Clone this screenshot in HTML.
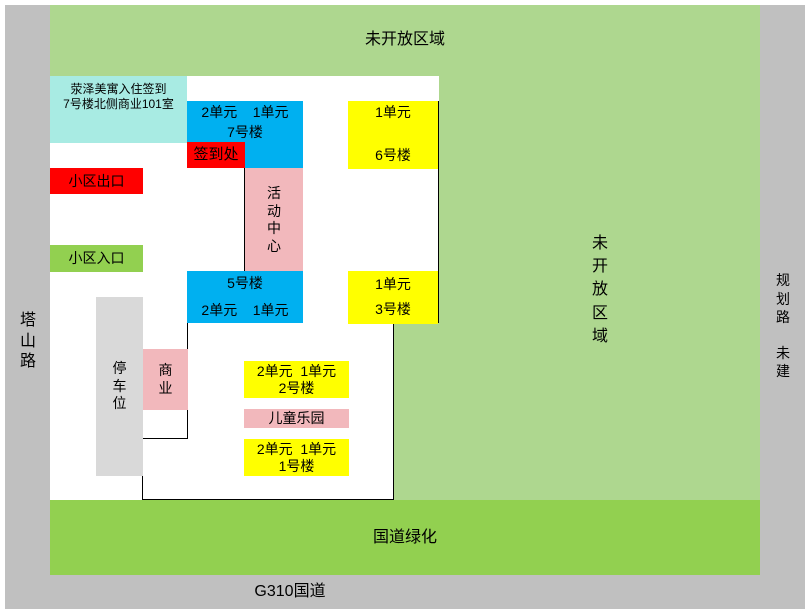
<!DOCTYPE html>
<html><head><meta charset="utf-8"><style>
body{margin:0;width:809px;height:614px;background:#fff;position:relative;overflow:hidden;font-family:"Liberation Sans","Noto Sans CJK SC",sans-serif;}
div{position:absolute;box-sizing:border-box;}
.t{display:flex;align-items:center;justify-content:center;text-align:center;font-size:14px;color:#000;line-height:1.2;}
</style></head><body>
<div style="left:5px;top:5px;width:800px;height:604px;background:#c0c0c0"></div>
<div style="left:50px;top:5px;width:710px;height:495px;background:#aed78f"></div>
<div class="t" style="left:50px;top:25px;width:710px;height:30px;font-size:16px">未开放区域</div>
<div class="t" style="left:580px;top:230px;width:40px;height:120px;font-size:16px;line-height:1.45">未<br>开<br>放<br>区<br>域</div>
<div style="left:50px;top:76px;width:389px;height:247px;background:#fff"></div>
<div style="left:50px;top:76px;width:137px;height:424px;background:#fff"></div>
<div style="left:142px;top:323px;width:252px;height:177px;background:#fff;border:1px solid #000;border-top:none"></div>
<div style="left:142px;top:323px;width:46px;height:116px;background:#fff;border-right:1px solid #000;border-bottom:1px solid #000"></div>
<div style="left:142px;top:440px;width:1px;height:60px;background:#000"></div>
<div style="left:139px;top:323px;width:3px;height:117px;background:#fff"></div>
<div style="left:438px;top:101px;width:1px;height:222px;background:#000"></div>
<div style="left:244px;top:168px;width:1px;height:104px;background:#000"></div>
<div class="t" style="left:50px;top:76px;width:137px;height:67px;background:#a8ebe3;align-items:flex-start;padding-top:6px;font-size:12px;line-height:1.25">荥泽美寓入住签到<br>7号楼北侧商业101室</div>
<div style="left:187px;top:101px;width:116px;height:67px;background:#00b0f0"></div>
<div class="t" style="left:187px;top:102px;width:116px;height:20px">2单元&nbsp;&nbsp;&nbsp;&nbsp;1单元</div>
<div class="t" style="left:187px;top:122px;width:116px;height:20px">7号楼</div>
<div class="t" style="left:187px;top:142px;width:58px;height:26px;background:#f00;font-size:15px">签到处</div>
<div class="t" style="left:50px;top:168px;width:93px;height:26px;background:#f00">小区出口</div>
<div class="t" style="left:50px;top:245px;width:93px;height:27px;background:#92d050">小区入口</div>
<div class="t" style="left:245px;top:168px;width:58px;height:104px;background:#f2b8bc;line-height:1.25">活<br>动<br>中<br>心</div>
<div style="left:187px;top:271px;width:116px;height:52px;background:#00b0f0"></div>
<div class="t" style="left:187px;top:273px;width:116px;height:20px">5号楼</div>
<div class="t" style="left:187px;top:300px;width:116px;height:20px">2单元&nbsp;&nbsp;&nbsp;&nbsp;1单元</div>
<div style="left:348px;top:101px;width:90px;height:68px;background:#ff0"></div>
<div class="t" style="left:348px;top:102px;width:90px;height:20px">1单元</div>
<div class="t" style="left:348px;top:145px;width:90px;height:20px">6号楼</div>
<div style="left:348px;top:271px;width:90px;height:53px;background:#ff0"></div>
<div class="t" style="left:348px;top:274px;width:90px;height:20px">1单元</div>
<div class="t" style="left:348px;top:299px;width:90px;height:20px">3号楼</div>
<div class="t" style="left:96px;top:297px;width:47px;height:179px;background:#d9d9d9;line-height:1.25">停<br>车<br>位</div>
<div class="t" style="left:143px;top:349px;width:45px;height:61px;background:#f2b8bc;line-height:1.25">商<br>业</div>
<div class="t" style="left:244px;top:361px;width:105px;height:37px;background:#ff0;line-height:1.2">2单元&nbsp;&nbsp;1单元<br>2号楼</div>
<div class="t" style="left:244px;top:409px;width:105px;height:19px;background:#f2b8bc">儿童乐园</div>
<div class="t" style="left:244px;top:439px;width:105px;height:37px;background:#ff0;line-height:1.2">2单元&nbsp;&nbsp;1单元<br>1号楼</div>
<div class="t" style="left:50px;top:500px;width:710px;height:75px;background:#92d050;font-size:16px">国道绿化</div>
<div class="t" style="left:230px;top:580px;width:120px;height:24px;font-size:16px">G310国道</div>
<div class="t" style="left:10px;top:302px;width:36px;height:80px;font-size:16px;line-height:1.3">塔<br>山<br>路</div>
<div class="t" style="left:765px;top:270px;width:36px;height:112px;font-size:14px;line-height:1.3">规<br>划<br>路<br><br>未<br>建</div>
</body></html>
